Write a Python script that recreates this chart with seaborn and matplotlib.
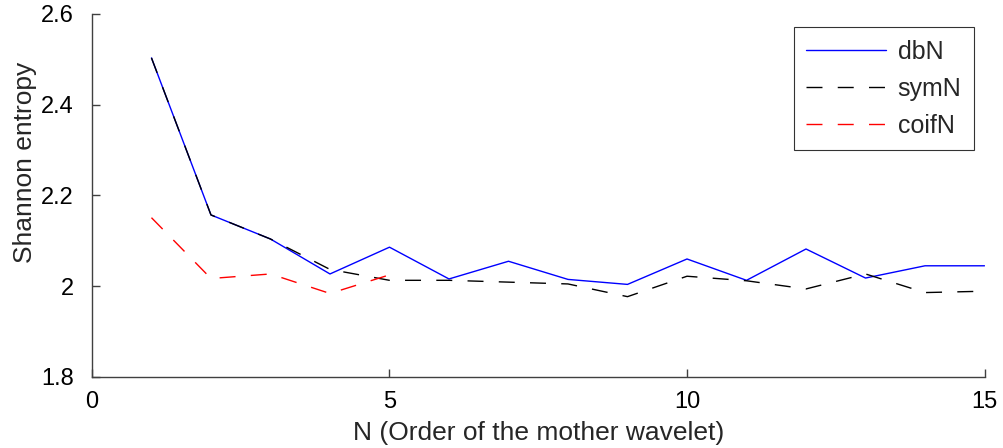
import numpy as np
import pandas as pd
import matplotlib.pyplot as plt
import seaborn as sns

# values
order_db = [1, 2, 3, 4, 5, 6, 7, 8, 9, 10, 11, 12, 13, 14, 15]
entropy_db = [2.503, 2.157, 2.104, 2.027, 2.086, 2.016, 2.055, 2.015, 2.004,
              2.060, 2.013, 2.082, 2.018, 2.045, 2.045]
order_sym = [1, 2, 3, 4, 5, 6, 7, 8, 9, 10, 11, 12, 13, 14, 15]
entropy_sym = [2.503, 2.157, 2.104, 2.037, 2.013, 2.013, 2.009, 2.005, 1.977,
               2.022, 2.012, 1.994, 2.027, 1.986, 1.989]
order_coif = [1, 2, 3, 4, 5]
entropy_coif = [2.151, 2.017, 2.027, 1.984, 2.025]

wavelets = ['dbN', 'symN', 'coifN']
colors = {'dbN': '#0000ff', 'symN': '#000000', 'coifN': '#ff0000'}

df = pd.concat([
    pd.DataFrame({'N': order_db, 'H': entropy_db, 'wavelet': 'dbN'}),
    pd.DataFrame({'N': order_sym, 'H': entropy_sym, 'wavelet': 'symN'}),
    pd.DataFrame({'N': order_coif, 'H': entropy_coif, 'wavelet': 'coifN'}),
], ignore_index=True)

sns.set_style('white', {'xtick.bottom': True, 'ytick.left': True})
plt.rcParams['font.family'] = ['Liberation Sans', 'DejaVu Sans']

fig = plt.figure(figsize=(10.04, 4.48), dpi=100)
ax = fig.add_axes([0.0916, 0.1585, 0.889, 0.8105])

sns.lineplot(data=df, x='N', y='H', hue='wavelet', style='wavelet',
             hue_order=wavelets, style_order=wavelets, palette=colors,
             dashes={'dbN': '', 'symN': (11.5, 11), 'coifN': (11.5, 11)},
             linewidth=1.0, ax=ax)

ax.set_xlim(0, 15)
ax.set_ylim(1.8, 2.6)
ax.set_xticks([0, 5, 10, 15])
ax.set_xticklabels(['0', '5', '10', '15'])
ax.set_yticks([1.8, 2.0, 2.2, 2.4, 2.6])
ax.set_yticklabels(['1.8', '2', '2.2', '2.4', '2.6'])
ax.tick_params(bottom=True, left=True, direction='in', length=6, width=1,
               labelsize=17, colors='#404040', labelcolor='black')
ax.tick_params(axis='x', pad=10)
ax.tick_params(axis='y', pad=13)
ax.set_xlabel('N (Order of the mother wavelet)', fontsize=19)
ax.set_ylabel('Shannon entropy', fontsize=19)
ax.xaxis.set_label_coords(0.5, -0.12)
ax.yaxis.set_label_coords(-0.062, 0.59)

for side in ['top', 'right']:
    ax.spines[side].set_visible(False)
for side in ['left', 'bottom']:
    ax.spines[side].set_color('#404040')
    ax.spines[side].set_linewidth(1)

leg = ax.legend(loc='upper right', bbox_to_anchor=(0.988, 0.963), fontsize=18,
                frameon=True, fancybox=False, edgecolor='black',
                handlelength=3.2, handletextpad=0.45, borderpad=0.5,
                labelspacing=0.52, borderaxespad=0)
leg.get_frame().set_linewidth(0.8)

fig.savefig('out.png', dpi=100)
